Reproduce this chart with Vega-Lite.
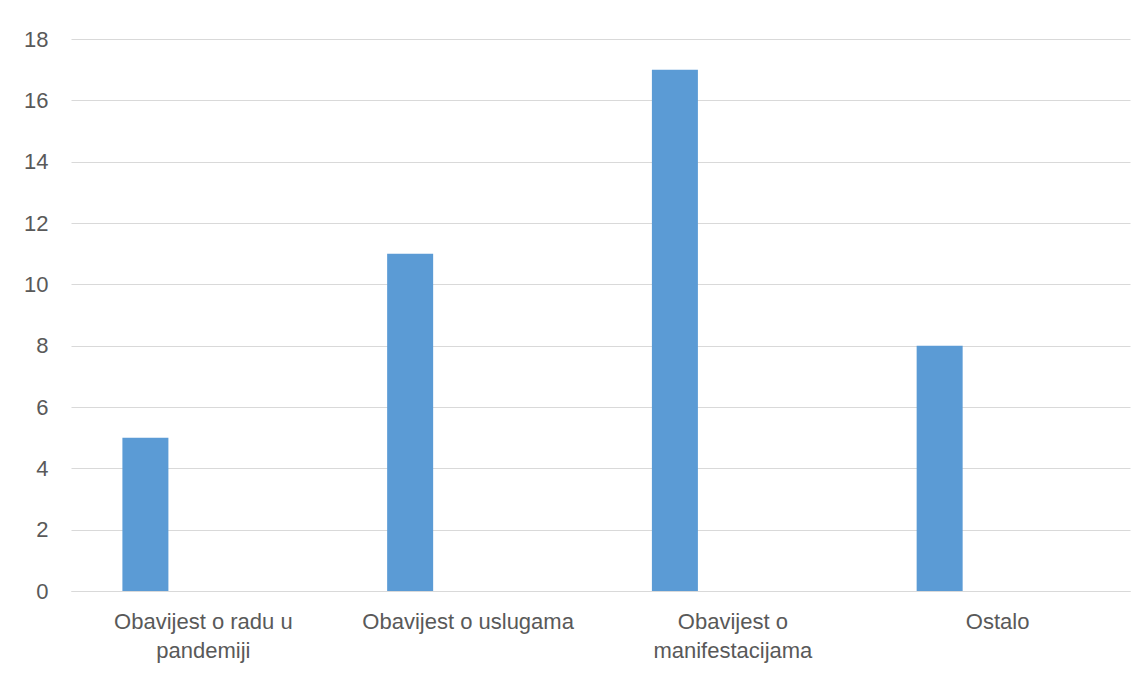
{
  "$schema": "https://vega.github.io/schema/vega-lite/v6.json",
  "autosize": {"type": "none"},
  "padding": {"left": 71, "top": 39, "right": 16, "bottom": 84},
  "width": 1059,
  "height": 552,
  "background": "white",
  "config": {
    "view": {"stroke": null},
    "font": "Liberation Sans"
  },
  "data": {
    "values": [
      {"kategorija": "Obavijest o radu u pandemiji", "serija": "A", "broj": 5},
      {"kategorija": "Obavijest o uslugama", "serija": "A", "broj": 11},
      {"kategorija": "Obavijest o manifestacijama", "serija": "A", "broj": 17},
      {"kategorija": "Ostalo", "serija": "A", "broj": 8}
    ]
  },
  "mark": {"type": "bar", "color": "#5b9bd5"},
  "encoding": {
    "x": {
      "field": "kategorija",
      "type": "nominal",
      "sort": null,
      "scale": {"paddingInner": 0, "paddingOuter": 0},
      "axis": {
        "title": null,
        "labelAngle": 0,
        "labelFont": "Liberation Sans",
        "labelFontSize": 22,
        "labelColor": "#595959",
        "labelPadding": 20,
        "labelLineHeight": 29,
        "labelLimit": 400,
        "labelExpr": "datum.value == 'Obavijest o radu u pandemiji' ? ['Obavijest o radu u', 'pandemiji'] : datum.value == 'Obavijest o manifestacijama' ? ['Obavijest o', 'manifestacijama'] : datum.value",
        "ticks": false,
        "domainColor": "#d9d9d9",
        "domainWidth": 1,
        "grid": false
      }
    },
    "xOffset": {
      "field": "serija",
      "type": "nominal",
      "scale": {"domain": ["A", "B"], "paddingInner": 0.6033, "paddingOuter": 0.4433}
    },
    "y": {
      "field": "broj",
      "type": "quantitative",
      "scale": {"domain": [0, 18], "nice": false},
      "axis": {
        "title": null,
        "values": [0, 2, 4, 6, 8, 10, 12, 14, 16, 18],
        "labelFont": "Liberation Sans",
        "labelFontSize": 22,
        "labelColor": "#595959",
        "labelPadding": 23,
        "ticks": false,
        "domain": false,
        "gridColor": "#d9d9d9",
        "gridWidth": 1
      }
    }
  }
}
